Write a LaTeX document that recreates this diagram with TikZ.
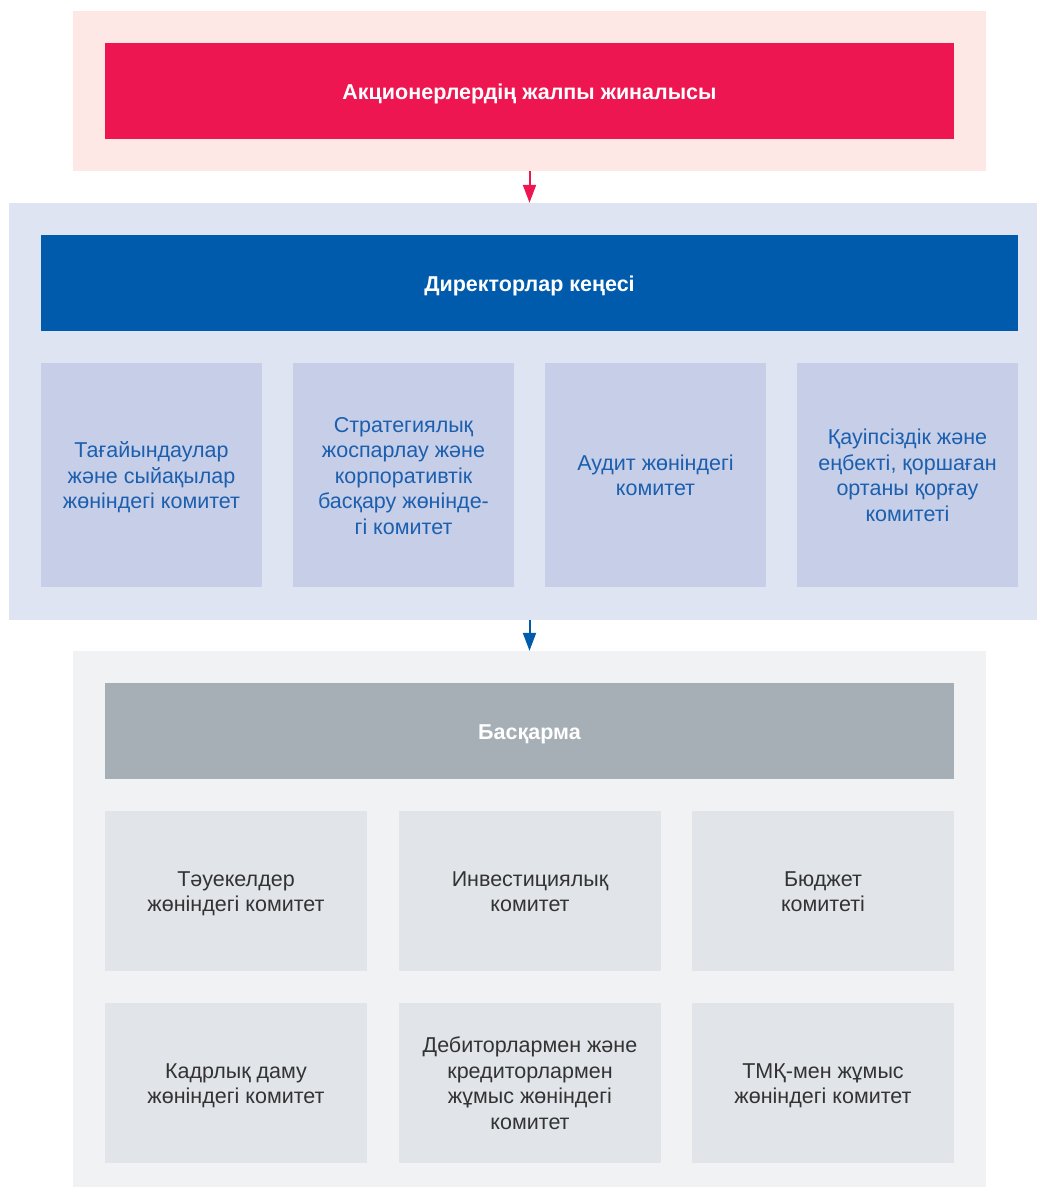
\documentclass[tikz,border=0pt]{standalone}
\usepackage{fontspec}
\setmainfont{Liberation Sans}
\usepackage{tikz}
\usetikzlibrary{positioning,arrows.meta}
\definecolor{bandpink}{HTML}{FDE8E6}
\definecolor{gmsred}{HTML}{EE1651}
\definecolor{bandblue}{HTML}{DFE4F2}
\definecolor{boardblue}{HTML}{005BAC}
\definecolor{combox}{HTML}{C7CEE7}
\definecolor{comtext}{HTML}{1B5FAE}
\definecolor{bandgrey}{HTML}{F1F2F4}
\definecolor{mgmtgrey}{HTML}{A7AFB6}
\definecolor{mgmtbox}{HTML}{E1E4E8}
\definecolor{mgmttext}{HTML}{333333}
% lines of a box label, set a little lower than centre
\newcommand{\lowtext}[1]{\raisebox{-3pt}[\height][\depth]{\begin{tabular}{@{}c@{}}#1\end{tabular}}}

\begin{document}
\begin{tikzpicture}[x=1pt, y=-1pt,
                every node/.append style = {inner sep=0pt,
                    font=\fontsize{21.5}{25.5}\selectfont},
                band/.style = {minimum width=913pt},
                headbox/.style = {minimum width=849pt, minimum height=96pt,
                    text=white, font=\fontsize{21.5}{25.5}\selectfont\bfseries},
                combox/.style = {fill=combox, text=comtext,
                    minimum width=221pt, minimum height=224pt},
                mgmtbox/.style = {fill=mgmtbox, text=mgmttext,
                    minimum width=262pt, minimum height=160pt},
                flow/.style = {line width=2pt, -{Triangle[width=13pt,length=18pt]}}]
            \useasboundingbox (0,0) rectangle (1037,1187);
            % shareholders
            \node[band, fill=bandpink, minimum height=160pt] (gmsband) at (529.5,91) {};
            \node[headbox, fill=gmsred] (gms) at (529.5,91) {\lowtext{Акционерлердің жалпы жиналысы}};
            % board of directors
            \node[fill=bandblue, minimum width=1028pt, minimum height=417pt] (boardband) at (523,411.5) {};
            \node[headbox, fill=boardblue, minimum width=977pt] (board) at (529.5,283) {\lowtext{Директорлар кеңесі}};
            \node[combox] (com1) at (151.5,475) {\lowtext{Тағайындаулар\\және сыйақылар\\жөніндегі комитет}};
            \node[combox] (com2) at (403.5,475) {\lowtext{Стратегиялық\\жоспарлау және\\корпоративтік\\басқару жөнінде-\\гі комитет}};
            \node[combox] (com3) at (655.5,475) {\lowtext{Аудит жөніндегі\\комитет}};
            \node[combox] (com4) at (907.5,475) {\lowtext{Қауіпсіздік және\\еңбекті, қоршаған\\ортаны қорғау\\комитеті}};
            % management board
            \node[band, fill=bandgrey, minimum height=536pt] (mgmtband) at (529.5,919) {};
            \node[headbox, fill=mgmtgrey] (mgmt) at (529.5,731) {\lowtext{Басқарма}};
            \node[mgmtbox] (risk) at (236,891) {\lowtext{Тәуекелдер\\жөніндегі комитет}};
            \node[mgmtbox] (invest) at (530,891) {\lowtext{Инвестициялық\\комитет}};
            \node[mgmtbox] (budget) at (823,891) {\lowtext{Бюджет\\комитеті}};
            \node[mgmtbox] (hr) at (236,1083) {\lowtext{Кадрлық даму\\жөніндегі комитет}};
            \node[mgmtbox] (debt) at (530,1083) {\lowtext{Дебиторлармен және\\кредиторлармен\\жұмыс жөніндегі\\комитет}};
            \node[mgmtbox] (tmk) at (823,1083) {\lowtext{ТМҚ-мен жұмыс\\жөніндегі комитет}};
            % arrows
            \draw[flow, gmsred] (gmsband.south) -- (gmsband.south |- boardband.north);
            \draw[flow, boardblue] (gmsband.south |- boardband.south) -- (mgmtband.north);
\end{tikzpicture}
\end{document}
